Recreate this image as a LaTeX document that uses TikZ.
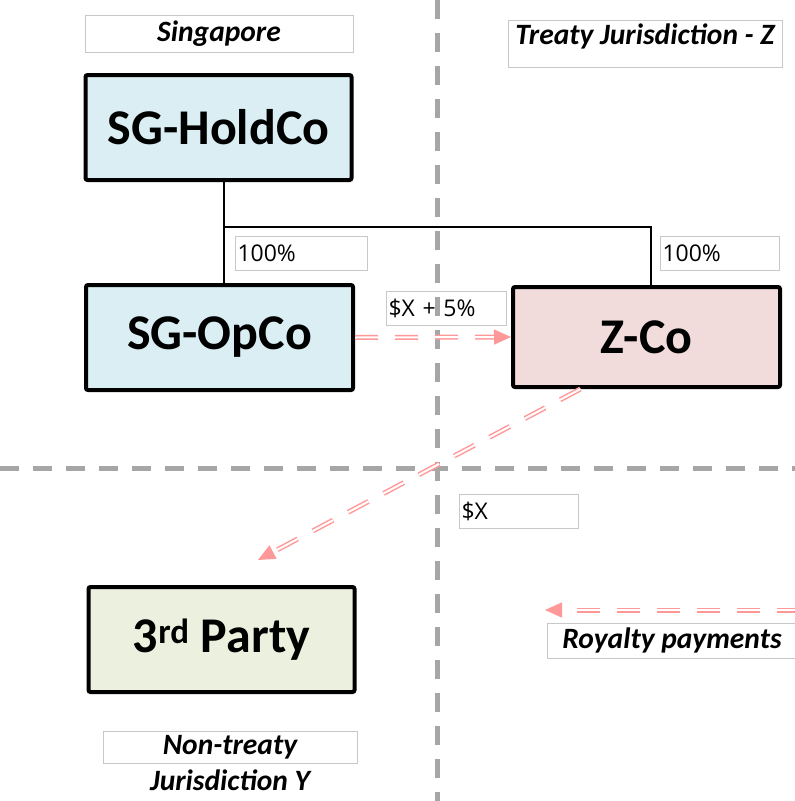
\documentclass[tikz,border=0pt]{standalone}
\usepackage{fontspec}
\setmainfont{Carlito}
\newfontfamily\sharefont{Open Sans}
\usetikzlibrary{arrows.meta,positioning}

\definecolor{sgblue}{HTML}{DAEEF3}
\definecolor{zpink}{HTML}{F2DCDB}
\definecolor{partygreen}{HTML}{EBF1DE}
\definecolor{flowpink}{HTML}{FF9999}
\definecolor{bordergray}{HTML}{A6A6A6}
\definecolor{tagline}{HTML}{C8C8C8}

\begin{document}
\begin{tikzpicture}[x=1pt,y=-1pt]
\tikzset{
  company/.style={draw, line width=4pt, rounded corners=2pt, minimum width=266pt, minimum height=105pt, font=\fontsize{50}{54}\selectfont\bfseries},
  region/.style={draw=tagline, line width=1pt, inner sep=0pt, font=\fontsize{29.5}{32}\selectfont\bfseries\itshape},
  share/.style={draw=tagline, line width=1pt, inner sep=2pt, minimum height=34pt, align=left, anchor=north west, font=\sharefont\fontsize{23}{28}\selectfont},
  border/.style={draw=bordergray, line width=5pt, dash pattern=on 19pt off 14pt},
  own/.style={draw, line width=2pt},
  flow/.style={draw=flowpink, line width=1.5pt, double=white, double distance=2pt, dash pattern=on 23pt off 17pt, -{Triangle[length=17pt,width=15pt,fill=flowpink]}}
}
\useasboundingbox (0,0) rectangle (795,801);

%% borders between jurisdictions
\draw[border] (437,0) -- (437,801);
\draw[border] (0,468) -- (795,468);

%% jurisdiction labels
\node[region, minimum width=268pt, minimum height=37pt] (sgtag) at (219,33.5) {Singapore};
\node[region, minimum width=274pt, minimum height=47pt, text height=20pt, text depth=19pt, inner ysep=4pt] (ztag) at (645,43.5) {Treaty Jurisdiction - Z};
\node[region, minimum width=254pt, minimum height=32pt] (ytag) at (230,747) {Non-treaty};
\node[font=\fontsize{29.5}{32}\selectfont\bfseries\itshape, below=3pt of ytag] (ytagb) {Jurisdiction Y};

%% companies
\node[company, fill=sgblue] (holdco) at (218.5,127.5) {SG-HoldCo};
\node[company, fill=sgblue, minimum width=267pt] (opco) at (219.5,337.5) {SG-OpCo};
\node[company, fill=zpink, minimum width=267pt, minimum height=100pt] (zco) at (646.5,337) {Z-Co};
\node[company, fill=partygreen] (third) at (221.5,639.5) {3\textsuperscript{rd} Party};

%% ownership
\draw[own] ([xshift=5pt]holdco.south) -- ([xshift=5pt]holdco.south |- opco.north);
\draw[own] ([xshift=5pt]holdco.south |- 0,227) -| ([xshift=4.5pt]zco.north);
\node[share, text width=128pt] (shareop) at (235,236) {100\%};
\node[share, text width=115pt] (sharez) at (660,236) {100\%};

%% payments
\draw[flow] (opco.east) -- (zco.west);
\node[share, text width=116pt] (payz) at (386,291) {\$X + 5\%};
\coordinate (tip) at (258,560);
\draw[flow] ([xshift=-66pt]zco.south) -- (tip);
\node[share, text width=115pt] (paythird) at (459,494) {\$X};

%% legend
\coordinate (roystart) at (800,610);
\coordinate (royend) at (545,610);
\draw[flow] (roystart) -- (royend);
\node[region, minimum width=250pt, minimum height=35pt] (roytag) at (672,640.5) {Royalty payments};
\end{tikzpicture}
\end{document}
